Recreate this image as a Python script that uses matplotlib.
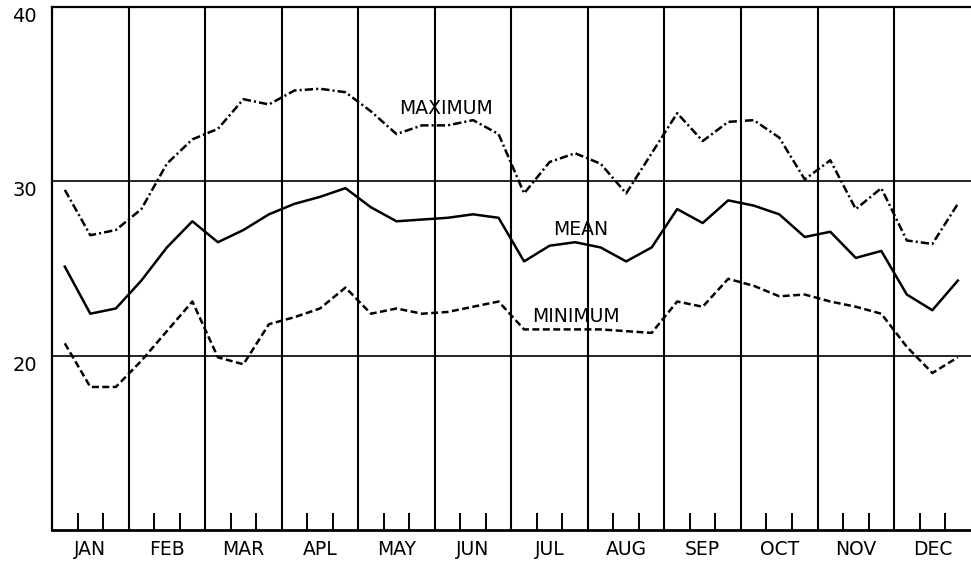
import numpy as np
import matplotlib
matplotlib.use("Agg")
import matplotlib.pyplot as plt

# Ten-day (dekad) values, three per month, Jan..Dec
months = ['JAN', 'FEB', 'MAR', 'APL', 'MAY', 'JUN',
          'JUL', 'AUG', 'SEP', 'OCT', 'NOV', 'DEC']

maximum = [29.5, 26.9, 27.2, 28.4, 31.0, 32.4, 33.0, 34.7, 34.4,
           35.2, 35.3, 35.1, 34.0, 32.7, 33.2, 33.2, 33.5, 32.7,
           29.3, 31.1, 31.6, 31.0, 29.3, 31.6, 33.9, 32.3, 33.4,
           33.5, 32.5, 30.1, 31.2, 28.4, 29.6, 26.6, 26.4, 28.7]

mean = [25.1, 22.4, 22.7, 24.3, 26.2, 27.7, 26.5, 27.2, 28.1,
        28.7, 29.1, 29.6, 28.5, 27.7, 27.8, 27.9, 28.1, 27.9,
        25.4, 26.3, 26.5, 26.2, 25.4, 26.2, 28.4, 27.6, 28.9,
        28.6, 28.1, 26.8, 27.1, 25.6, 26.0, 23.5, 22.6, 24.3]

minimum = [20.7, 18.2, 18.2, 19.7, 21.4, 23.1, 19.9, 19.5, 21.8,
           22.2, 22.7, 23.9, 22.4, 22.7, 22.4, 22.5, 22.8, 23.1,
           21.5, 21.5, 21.5, 21.5, 21.4, 21.3, 23.1, 22.8, 24.4,
           24.0, 23.4, 23.5, 23.1, 22.8, 22.4, 20.5, 19.0, 19.9]

yticks = [20, 30, 40]

plt.rcParams['lines.scale_dashes'] = False
plt.rcParams['font.family'] = 'DejaVu Sans'

# dekad centres in month units
x = np.arange(len(mean)) / 3 + 1 / 6

fig = plt.figure(figsize=(9.71, 5.65), dpi=100)
ax = fig.add_axes([0.0536, 0.062, 0.946, 0.926])

ax.plot(x, maximum, color='black', lw=1.8, dashes=(6, 2.2, 1.5, 2.2))
ax.plot(x, mean, color='black', lw=1.8)
ax.plot(x, minimum, color='black', lw=1.8, dashes=(5, 2.5))

# month dividers and 20/30 lines
for m in range(1, 12):
    ax.axvline(m, color='black', lw=1.5, zorder=1)
for v in [20, 30]:
    ax.axhline(v, color='black', lw=1.2, zorder=1)

ax.set_xlim(0, 12)
ax.set_ylim(10, 40)

ax.spines['right'].set_visible(False)
ax.spines['left'].set_linewidth(1.6)
ax.spines['top'].set_linewidth(1.6)
ax.spines['bottom'].set_linewidth(2.0)

# month names centred, ten-day ticks pointing up
ax.set_xticks(np.arange(12) + 0.5)
ax.set_xticklabels(months)
ax.tick_params(axis='x', which='major', length=0, pad=7, labelsize=13.5)
minor = [m + f for m in range(12) for f in (1 / 3, 2 / 3)]
ax.set_xticks(minor, minor=True)
ax.tick_params(axis='x', which='minor', direction='in', length=12, width=1.4)

ax.set_yticks(yticks)
ax.set_yticklabels([str(t) for t in yticks])
ax.tick_params(axis='y', length=0, pad=11, labelsize=14)
for lab in ax.get_yticklabels():
    lab.set_verticalalignment('top')

ax.text(5.15, 34.15, 'MAXIMUM', ha='center', va='center', fontsize=13.5)
ax.text(6.9, 27.22, 'MEAN', ha='center', va='center', fontsize=13.5)
ax.text(6.85, 22.23, 'MINIMUM', ha='center', va='center', fontsize=13.5)

fig.savefig('out.png', dpi=100)
